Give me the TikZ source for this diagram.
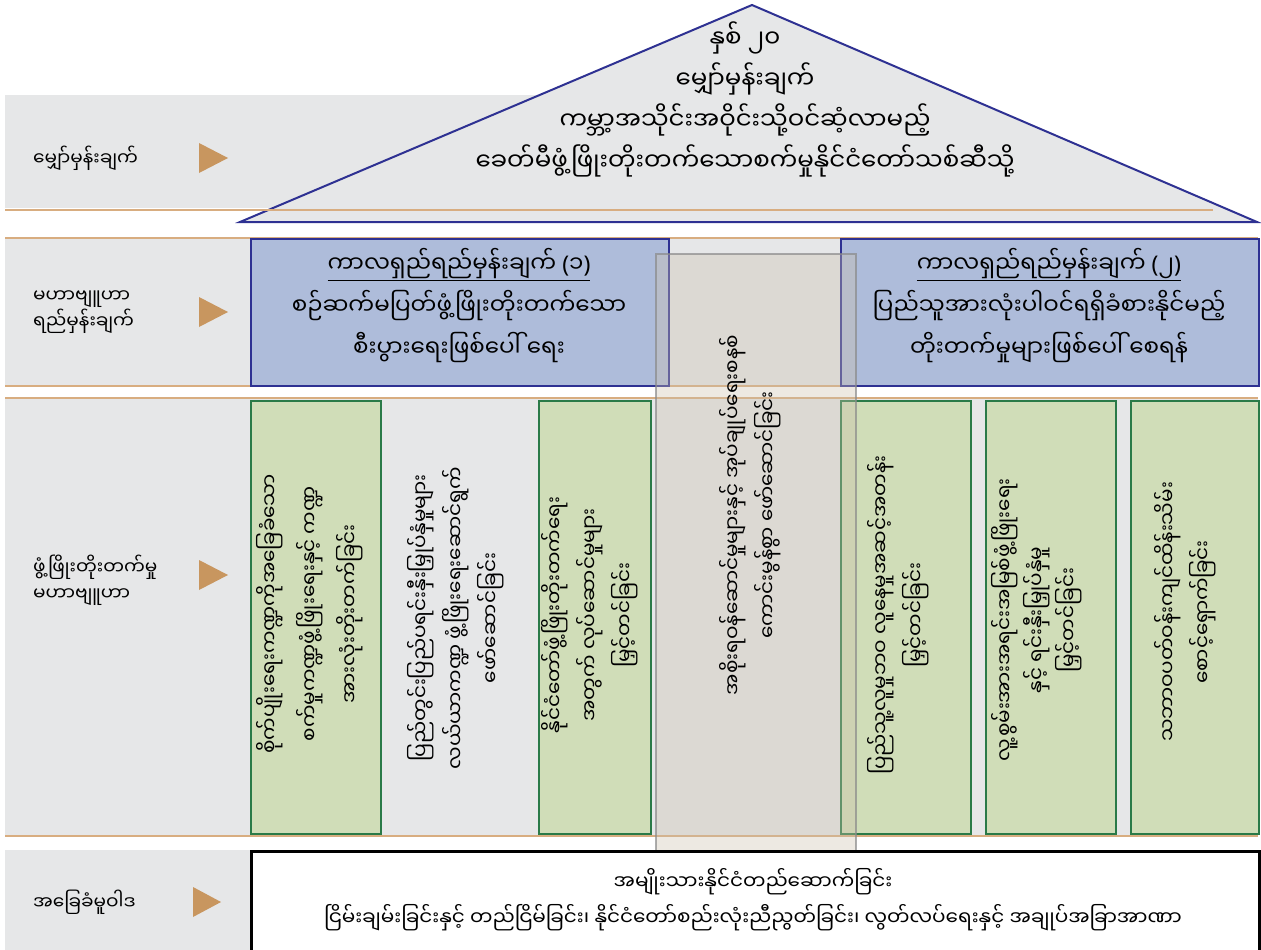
\documentclass[tikz,border=0pt]{standalone}
\usepackage{fontspec}
\setmainfont{Noto Sans Myanmar UI}[Script=Myanmar]
\newfontfamily\latinfont{Noto Sans}
\definecolor{bandgray}{HTML}{E6E7E8}
\definecolor{tanline}{HTML}{D8AD80}
\definecolor{tanarrow}{HTML}{C8965F}
\definecolor{navy}{HTML}{2E3192}
\definecolor{bluefill}{HTML}{AEBCDA}
\definecolor{greenline}{HTML}{2A7A48}
\definecolor{greenfill}{HTML}{D0DDB8}
\definecolor{beige}{HTML}{CBC0AC}
\definecolor{pillarline}{HTML}{8A8A8A}
\newcommand{\rooftxt}{\fontsize{24.5}{41}\selectfont}
\newcommand{\goaltxt}{\fontsize{23}{42}\selectfont}
\newcommand{\basetxt}{\fontsize{20}{36}\selectfont}
\newcommand{\vtxt}{\fontsize{20}{40}\selectfont}
\newcommand{\vtxtn}{\fontsize{20}{35}\selectfont}
\newcommand{\mylbl}{\fontsize{18.5}{26}\selectfont}
\newcommand{\lp}{{\latinfont (}}
\newcommand{\rp}{{\latinfont )}}
\tikzset{
  tanrule/.style={draw=tanline, line width=2.5pt},
  goalbox/.style={draw=navy, line width=2pt, fill=bluefill, inner sep=0pt},
  stratbox/.style={draw=greenline, line width=2.2pt, fill=greenfill, inner sep=0pt},
  pillarbox/.style={draw=pillarline, draw opacity=0.7, line width=2pt, fill=beige, fill opacity=0.35, inner sep=0pt},
  basebox/.style={draw=black, line width=2.5pt, fill=white, inner sep=0pt},
  rowlabel/.style={font=\mylbl, align=left, anchor=west, inner sep=0pt},
  rooftext/.style={font=\rooftxt, align=center, inner sep=0pt},
  goaltext/.style={font=\goaltxt, align=center, inner sep=0pt},
  basetext/.style={font=\basetxt, align=center, inner sep=0pt},
  vtext/.style={font=\vtxt, align=center, inner sep=0pt, rotate=90},
  vtextn/.style={font=\vtxtn, align=center, inner sep=0pt, rotate=90},
  tri/.style={fill=tanarrow}
}
\begin{document}
\begin{tikzpicture}[x=1pt,y=-1pt]
\useasboundingbox (0,0) rectangle (1261,950);
% row bands
\fill[bandgray] (5,95) rectangle (760,208);
\fill[bandgray] (5,238) rectangle (1258,386);
\fill[bandgray] (5,398) rectangle (1258,836);
\fill[bandgray] (5,850) rectangle (250,950);
% vision roof
\draw[navy, line width=2pt, fill=bandgray, line join=miter] (240,222) -- (752,5) -- (1257,222) -- cycle;
\draw[tanrule] (5,210) -- (1213,210);
\draw[tanrule] (5,238) -- (1258,238);
\draw[tanrule] (5,386) -- (1258,386);
\draw[tanrule] (5,398) -- (1258,398);
\draw[tanrule] (5,836) -- (1258,836);
\node[rooftext] (vision) at (745,99) {နှစ် ၂၀\\မျှော်မှန်းချက်\\ကမ္ဘာ့အသိုင်းအဝိုင်းသို့ဝင်ဆံ့လာမည့်\\ခေတ်မီဖွံ့ဖြိုးတိုးတက်သောစက်မှုနိုင်ငံတော်သစ်ဆီသို့};
% long-term goals
\node[goalbox, minimum width=418pt, minimum height=147pt, anchor=north west] (g1) at (250,238) {};
\node[goalbox, minimum width=418pt, minimum height=147pt, anchor=north west] (g2) at (840,238) {};
\node[goaltext] (g1t) at (459,306) {\underline{ကာလရှည်ရည်မှန်းချက် \lp၁\rp}\\စဉ်ဆက်မပြတ်ဖွံ့ဖြိုးတိုးတက်သော\\စီးပွားရေးဖြစ်ပေါ် ရေး};
\node[goaltext] (g2t) at (1049,306) {\underline{ကာလရှည်ရည်မှန်းချက် \lp၂\rp}\\ပြည်သူအားလုံးပါဝင်ရရှိခံစားနိုင်မည့်\\တိုးတက်မှုများဖြစ်ပေါ် စေရန်};
% strategies
\node[stratbox, minimum width=130pt, minimum height=433pt, anchor=north west] (s1) at (250,400) {};
\node[stratbox, minimum width=112pt, minimum height=433pt, anchor=north west] (s3) at (538,400) {};
\node[stratbox, minimum width=130pt, minimum height=433pt, anchor=north west] (s5) at (840,400) {};
\node[stratbox, minimum width=130pt, minimum height=433pt, anchor=north west] (s6) at (985,400) {};
\node[stratbox, minimum width=128pt, minimum height=433pt, anchor=north west] (s7) at (1130,400) {};
\node[pillarbox, minimum width=200pt, minimum height=597pt, anchor=north west] (s4) at (655,253) {};
\node[vtext] (s1t) at (310,614) {စိုက်ပျိုးရေးကဏ္ဍကိုအခြေခံသော\\စက်မှုကဏ္ဍဖွံ့ဖြိုးရေးနှင့် ကဏ္ဍ\\အားလုံးတိုးတက်ခြင်း};
\node[vtextn] (s2t) at (456,618) {ပြည်တွင်းပြည်ပရင်းနှီးမြှုပ်နှံမှုများ\\လယ်ယာကဏ္ဍ ဖွံ့ဖြိုးရေးဆောင်ရွက်\\ဖော်ဆောင်ခြင်း};
\node[vtextn] (s3t) at (590,615) {နိုင်ငံတော်ဖွံ့ဖြိုးတိုးတက်ရေး\\အတွက် လုပ်ဆောင်မှုများ\\မြှင့်တင်ခြင်း};
\node[vtextn] (s4t) at (750,515) {အစိုးရဝန်ဆောင်မှုများနှင့် အုပ်ချုပ်ရေးစနစ်\\ကောင်းမွန်စွာ ဖော်ဆောင်ခြင်း};
\node[vtextn] (s5t) at (898,615) {ပြည်သူ့လူမှုဘဝ လူနေမှုအဆင့်အတန်း\\မြှင့်တင်ခြင်း};
\node[vtextn,font=\fontsize{20}{32}\selectfont] (s6t) at (1037,620) {လူ့စွမ်းအားအရင်းအမြစ်ဖွံ့ဖြိုးရေး\\နှင့် ရင်းနှီးမြှုပ်နှံမှု\\မြှင့်တင်ခြင်း};
\node[vtextn] (s7t) at (1185,612) {သဘာဝပတ်ဝန်းကျင်ထိန်းသိမ်း\\စောင့်ရှောက်ခြင်း};
% foundation
\node[basebox, minimum width=1008pt, minimum height=104pt, anchor=north west] (base) at (250,850) {};
\node[basetext] (baset) at (753,900) {အမျိုးသားနိုင်ငံတည်ဆောက်ခြင်း\\ငြိမ်းချမ်းခြင်းနှင့် တည်ငြိမ်ခြင်း၊ နိုင်ငံတော်စည်းလုံးညီညွတ်ခြင်း၊ လွတ်လပ်ရေးနှင့် အချုပ်အခြာအာဏာ};
% row labels
\node[rowlabel] (l1) at (33,158) {မျှော်မှန်းချက်};
\node[rowlabel] (l2) at (33,312) {မဟာဗျူဟာ\\ရည်မှန်းချက်};
\node[rowlabel] (l3) at (33,580) {ဖွံ့ဖြိုးတိုးတက်မှု\\မဟာဗျူဟာ};
\node[rowlabel] (l4) at (33,902) {အခြေခံမူဝါဒ};
\fill[tri] (199,143) -- (228,158) -- (199,173) -- cycle;
\fill[tri] (199,297) -- (228,312) -- (199,327) -- cycle;
\fill[tri] (199,560) -- (228,575) -- (199,590) -- cycle;
\fill[tri] (193,887) -- (221,902) -- (193,917) -- cycle;
\end{tikzpicture}
\end{document}
